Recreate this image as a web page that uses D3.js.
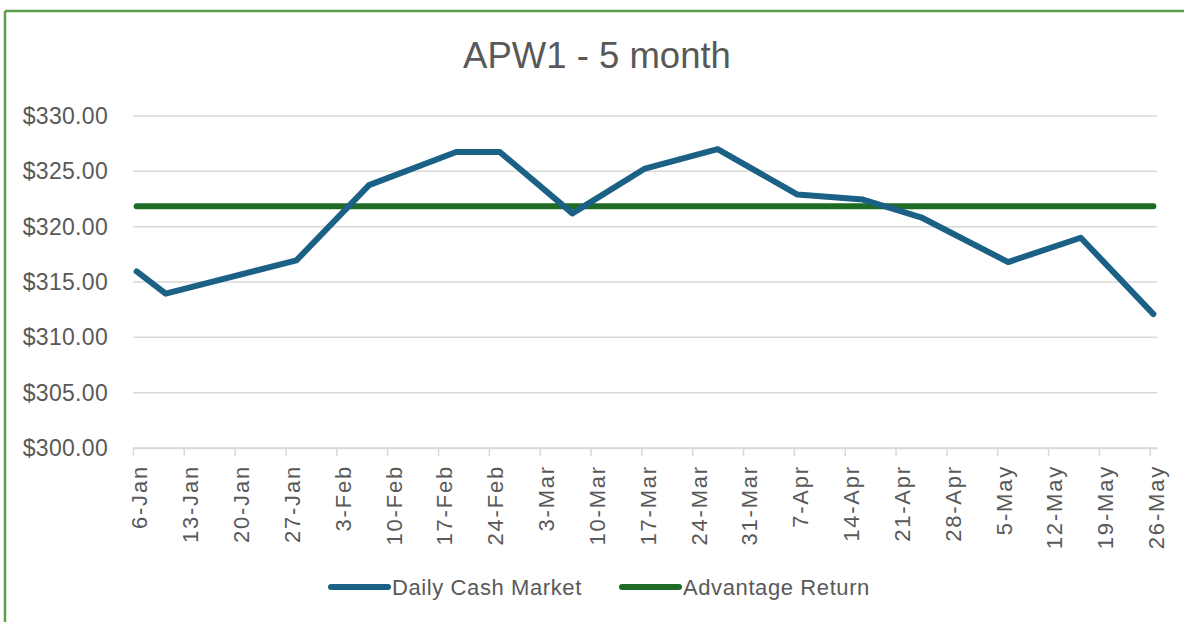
<!DOCTYPE html>
<html>
<head>
<meta charset="utf-8">
<script src="https://cdn.jsdelivr.net/npm/d3@7"></script>
<style>
    body { margin: 0; background: #fff; }
    text { font-family: "Liberation Sans", Arial, sans-serif; fill: #595959; }
</style>
</head>
<body>
<svg id="chart"></svg>
<script>
// dates of the observations (2019)
var dates = ["2019-01-06", "2019-01-10", "2019-01-28", "2019-02-07", "2019-02-19",
    "2019-02-25", "2019-03-07", "2019-03-17", "2019-03-27", "2019-04-07",
    "2019-04-16", "2019-04-24", "2019-05-06", "2019-05-16", "2019-05-26"];
var cashMarket = [315.95, 313.95, 316.95, 323.75, 326.75,
    326.75, 321.2, 325.25, 327.0, 322.9,
    322.45, 320.85, 316.8, 319.0, 312.1];
var advantageReturn = [321.85, 321.85, 321.85, 321.85, 321.85,
    321.85, 321.85, 321.85, 321.85, 321.85,
    321.85, 321.85, 321.85, 321.85, 321.85];
var yTicks = [300, 305, 310, 315, 320, 325, 330];
var seriesNames = ["Daily Cash Market", "Advantage Return"];
var seriesColors = ["#1a6185", "#1e6b26"];

var width = 1184, height = 622;
var margin = { top: 116, right: 27, bottom: 174, left: 133 };
var w = width - margin.left - margin.right,
    h = height - margin.top - margin.bottom;

var parse = d3.utcParse("%Y-%m-%d");
var days = dates.map(parse);

var svg = d3.select("#chart")
    .attr("width", width)
    .attr("height", height);

// outer frame (only top and left edges visible)
svg.append("line")
    .attr("x1", 5).attr("x2", width).attr("y1", 11).attr("y2", 11)
    .attr("stroke", "#5a9e47").attr("stroke-width", 2.5);
svg.append("line")
    .attr("x1", 5).attr("x2", 5).attr("y1", 11).attr("y2", height)
    .attr("stroke", "#5a9e47").attr("stroke-width", 2.5);

svg.append("text")
    .attr("x", 597)
    .attr("y", 68)
    .attr("text-anchor", "middle")
    .style("font-size", "36.5px")
    .text("APW1 - 5 month");

var g = svg.append("g")
    .attr("transform", "translate(" + margin.left + "," + margin.top + ")");

// date axis: each day is a slot, ticks at slot start, points at slot centre
var xScale = d3.scaleUtc()
    .domain([days[0], d3.utcDay.offset(days[days.length - 1], 1)])
    .range([0, w]);
var xMid = function (d) {
    return xScale(d3.utcHour.offset(d, 12));
};
var yScale = d3.scaleLinear()
    .domain([300, 330])
    .range([h, 0]);

// gridlines
g.selectAll(".grid")
    .data(yTicks)
    .enter().append("line")
    .attr("class", "grid")
    .attr("x1", 0).attr("x2", w)
    .attr("y1", function (d) { return yScale(d); })
    .attr("y2", function (d) { return yScale(d); })
    .attr("stroke", "#d9d9d9")
    .attr("stroke-width", 1.5);

var yAxis = d3.axisLeft(yScale)
    .tickValues(yTicks)
    .tickSize(0)
    .tickPadding(25)
    .tickFormat(function (d) { return "$" + d3.format(".2f")(d); });
g.append("g")
    .call(yAxis)
    .call(function (s) { s.select(".domain").remove(); })
    .selectAll("text")
    .style("font-size", "23px")
    .style("letter-spacing", "0.3px")
    .style("fill", "#595959");

var weekTicks = d3.utcWeek.range(days[0], d3.utcDay.offset(days[days.length - 1], 1));
var xAxis = d3.axisBottom(xScale)
    .tickValues(weekTicks)
    .tickSize(8)
    .tickSizeOuter(0)
    .tickFormat(d3.utcFormat("%-d-%b"));
var xg = g.append("g")
    .attr("transform", "translate(0," + h + ")")
    .call(xAxis);
xg.select(".domain").attr("stroke", "#d9d9d9").attr("stroke-width", 1.5);
xg.selectAll(".tick line").attr("stroke", "#d9d9d9").attr("stroke-width", 1.5);
xg.selectAll(".tick text")
    .attr("transform", "translate(6,0) rotate(-90)")
    .attr("text-anchor", "end")
    .attr("x", -17)
    .attr("y", 0)
    .attr("dy", "0.36em")
    .style("font-size", "22px")
    .style("letter-spacing", "1.8px")
    .style("fill", "#595959");

var line = d3.line()
    .x(function (d) { return xMid(d.date); })
    .y(function (d) { return yScale(d.value); });

var series = [cashMarket, advantageReturn].map(function (vals) {
    return vals.map(function (v, i) { return { date: days[i], value: v }; });
});

g.selectAll(".series")
    .data(series)
    .enter().append("path")
    .attr("class", "series")
    .attr("d", line)
    .attr("fill", "none")
    .attr("stroke", function (d, i) { return seriesColors[i]; })
    .attr("stroke-width", 6)
    .attr("stroke-linecap", "round")
    .attr("stroke-linejoin", "round");

// draw the cash line above the flat line
g.selectAll(".series").filter(function (d, i) { return i === 0; }).raise();

// legend
var legendX = [331, 622];
var legend = svg.selectAll(".legend")
    .data(seriesNames)
    .enter().append("g")
    .attr("class", "legend")
    .attr("transform", function (d, i) { return "translate(" + legendX[i] + ",587)"; });
legend.append("line")
    .attr("x1", 0).attr("x2", 57)
    .attr("stroke", function (d, i) { return seriesColors[i]; })
    .attr("stroke-width", 6)
    .attr("stroke-linecap", "round");
legend.append("text")
    .attr("x", 61)
    .attr("dy", "0.36em")
    .style("font-size", "22px")
    .style("letter-spacing", "0.6px")
    .text(function (d) { return d; });
</script>
</body>
</html>
